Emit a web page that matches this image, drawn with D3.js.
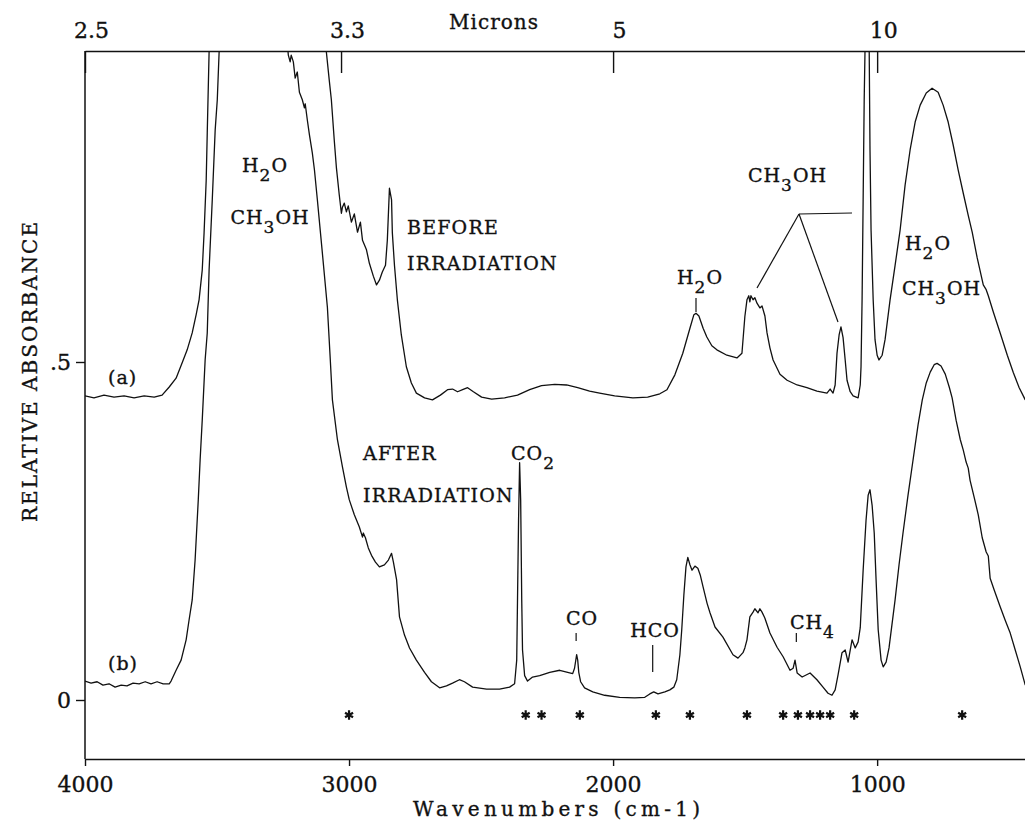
<!DOCTYPE html>
<html>
<head>
<meta charset="utf-8">
<script src="https://cdn.jsdelivr.net/npm/d3@7"></script>
<style>
  body { margin: 0; background: #fff; }
  text { font-family: "DejaVu Serif", serif; fill: #111; stroke: #111; stroke-width: 0.35px; }
</style>
</head>
<body>
<svg id="chart" width="1025" height="826"></svg>
<script>

// spectra: [wavenumber cm-1, relative absorbance]
// values above ~0.96 are off scale (clipped by the frame, as in the original)
var beforeIrradiation = [
  [4000,.450],[3966,.447],[3928,.451],[3890,.448],[3852,.450],[3814,.447],[3776,.450],[3738,.448],
  [3708,.451],[3681,.463],[3655,.476],[3632,.499],[3613,.518],[3594,.543],[3579,.570],[3568,.592],
  [3556,.636],[3549,.691],[3541,.769],[3537,.839],[3530,.959],[3511,1.05],[3450,1.15],[3300,1.2],
  [3150,1.1],[3100,1.0],[3086,.959],[3075,.917],[3067,.888],[3056,.828],[3048,.788],[3037,.747],
  [3029,.720],[3025,.729],[3018,.735],[3010,.722],[3003,.731],[2991,.707],[2980,.719],[2968,.692],
  [2957,.707],[2949,.680],[2934,.666],[2923,.646],[2908,.627],[2896,.614],[2885,.621],[2874,.633],
  [2862,.643],[2855,.680],[2847,.757],[2839,.740],[2836,.691],[2828,.643],[2817,.592],[2802,.540],
  [2783,.493],[2764,.469],[2745,.454],[2714,.447],[2684,.444],[2654,.451],[2627,.459],[2608,.460],
  [2589,.456],[2570,.459],[2551,.462],[2529,.456],[2498,.448],[2460,.445],[2411,.447],[2362,.451],
  [2316,.459],[2271,.465],[2221,.467],[2176,.466],[2134,.462],[2089,.457],[2051,.454],[1994,.450],
  [1925,.447],[1869,.448],[1823,.453],[1796,.459],[1766,.481],[1736,.513],[1709,.550],[1694,.570],
  [1686,.572],[1675,.568],[1659,.550],[1645,.537],[1626,.524],[1607,.518],[1569,.510],[1531,.506],
  [1512,.513],[1501,.567],[1493,.592],[1486,.598],[1482,.589],[1478,.598],[1470,.592],[1463,.595],
  [1455,.587],[1444,.580],[1436,.583],[1425,.568],[1417,.543],[1406,.521],[1394,.503],[1368,.482],
  [1341,.473],[1303,.466],[1266,.462],[1228,.457],[1190,.454],[1178,.460],[1167,.454],[1159,.466],
  [1152,.513],[1144,.540],[1137,.552],[1129,.536],[1121,.503],[1114,.473],[1102,.456],[1091,.450],
  [1072,.447],[1064,.466],[1061,.493],[1057,.592],[1053,.740],[1049,.888],[1046,.959],[1042,1.05],
  [1038,1.1],[1034,1.05],[1030,.959],[1027,.814],[1023,.695],[1015,.592],[1008,.533],[1000,.510],
  [993,.503],[981,.510],[970,.533],[951,.592],[932,.643],[913,.695],[894,.762],[875,.814],
  [856,.855],[837,.880],[814,.898],[792,.905],[769,.899],[750,.880],[731,.855],[712,.821],
  [693,.784],[674,.750],[655,.717],[640,.692],[621,.654],[598,.614],[587,.607],[579,.598],
  [560,.574],[534,.543],[507,.510],[484,.484],[462,.462],[439,.444]
];

var afterIrradiation = [
  [4000,.028],[3977,.025],[3954,.027],[3932,.022],[3909,.024],[3886,.019],[3863,.022],[3841,.021],
  [3818,.025],[3795,.024],[3772,.027],[3750,.024],[3727,.027],[3704,.024],[3681,.024],[3674,.028],
  [3655,.044],[3636,.059],[3617,.089],[3606,.118],[3594,.148],[3583,.207],[3571,.296],[3564,.355],
  [3556,.414],[3545,.503],[3537,.543],[3530,.636],[3518,.740],[3507,.843],[3499,.888],[3492,.959],
  [3450,1.1],[3350,1.2],[3260,1.05],[3240,1.0],[3230,.954],[3223,.944],[3219,.954],[3211,.944],
  [3204,.920],[3196,.929],[3188,.899],[3177,.888],[3169,.876],[3166,.882],[3158,.858],[3150,.836],
  [3139,.809],[3131,.784],[3120,.740],[3101,.661],[3082,.581],[3071,.503],[3063,.444],[3044,.385],
  [3025,.345],[3010,.315],[2999,.296],[2980,.274],[2961,.256],[2949,.241],[2946,.247],[2938,.240],
  [2927,.225],[2915,.214],[2900,.204],[2885,.197],[2866,.200],[2851,.207],[2839,.217],[2832,.204],
  [2820,.178],[2809,.123],[2790,.096],[2771,.077],[2745,.059],[2714,.041],[2688,.027],[2657,.018],
  [2631,.021],[2608,.025],[2582,.030],[2563,.027],[2532,.019],[2479,.016],[2430,.016],[2392,.019],
  [2373,.024],[2365,.059],[2362,.148],[2358,.266],[2354,.351],[2350,.296],[2346,.148],[2343,.074],
  [2335,.036],[2324,.028],[2305,.034],[2278,.036],[2240,.041],[2202,.044],[2172,.041],[2153,.039],
  [2146,.047],[2138,.067],[2134,.059],[2130,.041],[2123,.027],[2108,.018],[2077,.012],[2032,.007],
  [1975,.004],[1918,.003],[1880,.004],[1861,.009],[1846,.012],[1830,.009],[1804,.012],[1785,.015],
  [1770,.019],[1759,.030],[1747,.067],[1740,.104],[1732,.155],[1724,.197],[1717,.211],[1709,.200],
  [1701,.192],[1690,.198],[1679,.195],[1670,.185],[1659,.167],[1644,.143],[1633,.129],[1614,.108],
  [1584,.093],[1546,.067],[1527,.062],[1508,.070],[1501,.077],[1493,.089],[1482,.123],[1470,.130],
  [1463,.135],[1451,.129],[1444,.135],[1436,.130],[1425,.121],[1406,.099],[1379,.078],[1356,.064],
  [1330,.044],[1318,.047],[1311,.059],[1303,.040],[1284,.034],[1254,.040],[1228,.030],[1205,.019],
  [1186,.010],[1171,.007],[1159,.015],[1148,.037],[1133,.070],[1121,.074],[1110,.056],[1095,.089],
  [1083,.077],[1072,.086],[1064,.107],[1053,.192],[1042,.266],[1034,.303],[1027,.311],[1019,.288],
  [1011,.247],[1004,.178],[996,.104],[985,.059],[977,.049],[966,.056],[955,.077],[932,.148],
  [917,.200],[902,.247],[883,.303],[864,.355],[845,.407],[829,.444],[814,.469],[799,.485],
  [784,.496],[773,.498],[758,.494],[742,.482],[727,.463],[716,.447],[701,.414],[685,.385],
  [674,.370],[663,.352],[655,.343],[648,.325],[632,.299],[617,.274],[602,.240],[587,.219],
  [579,.213],[572,.180],[557,.163],[534,.138],[515,.118],[496,.099],[477,.074],[458,.049],[439,.022]
];

// bands marked with * under the spectra
var asteriskBands = [3000, 2331, 2271, 2126, 1838, 1709, 1493, 1356, 1300, 1254, 1216, 1178, 1087, 678];

var wavenumberTicks = [4000, 3000, 2000, 1000];
var micronTicks = [2.5, 3.3, 5, 10];
var absorbanceTicks = [0, 0.5];
var absorbanceTickLabels = ["0", ".5"];

var svg = d3.select("#chart");

var plotTop = 51, plotBottom = 759, plotLeft = 85, plotRight = 1025;

var x = d3.scaleLinear().domain([4000, 440]).range([plotLeft, plotRight]);
var y = d3.scaleLinear().domain([0, 0.5]).range([700, 362]);

svg.append("clipPath").attr("id", "plotclip")
  .append("rect")
  .attr("x", plotLeft).attr("y", plotTop)
  .attr("width", plotRight - plotLeft).attr("height", plotBottom - plotTop);

var line = d3.line()
  .x(function(d) { return x(d[0]); })
  .y(function(d) { return y(d[1]); });

//spectra
[beforeIrradiation, afterIrradiation].forEach(function(series) {
  svg.append("path")
    .datum(series)
    .attr("clip-path", "url(#plotclip)")
    .attr("fill", "none")
    .attr("stroke", "#111")
    .attr("stroke-width", 1.3)
    .attr("stroke-linejoin", "round")
    .attr("d", line);
});

//bottom axis (wavenumbers)
var bottomAxis = svg.append("g")
  .attr("transform", "translate(0," + plotBottom + ")")
  .call(d3.axisBottom(x).tickValues(wavenumberTicks).tickFormat(d3.format("d"))
    .tickSize(7).tickSizeOuter(0).tickPadding(10));
bottomAxis.attr("font-size", 22);

//top axis (microns)
var topAxis = svg.append("g")
  .attr("transform", "translate(0," + plotTop + ")")
  .call(d3.axisTop(x)
    .tickValues(micronTicks.map(function(m) { return 10000 / m; }))
    .tickFormat(function(d, i) { return micronTicks[i]; })
    .tickSize(-22).tickSizeOuter(0).tickPadding(13));
topAxis.attr("font-size", 22);
topAxis.selectAll(".tick text").attr("dx", 6);

//left axis
var leftAxis = svg.append("g")
  .attr("transform", "translate(" + plotLeft + ",0)")
  .call(d3.axisLeft(y).tickValues(absorbanceTicks)
    .tickFormat(function(d, i) { return absorbanceTickLabels[i]; })
    .tickSize(9).tickSizeOuter(0).tickPadding(5));
leftAxis.attr("font-size", 22);
leftAxis.select(".domain").remove();

svg.append("line")
  .attr("x1", plotLeft).attr("x2", plotLeft)
  .attr("y1", plotTop).attr("y2", plotBottom)
  .attr("stroke", "#111").attr("stroke-width", 1.5);

svg.selectAll(".domain, .tick line").attr("stroke", "#111").attr("stroke-width", 1.4);

//axis titles
svg.append("text")
  .attr("x", 494).attr("y", 29)
  .attr("text-anchor", "middle")
  .attr("font-size", 20)
  .attr("letter-spacing", 1)
  .text("Microns");

svg.append("text")
  .attr("x", 413).attr("y", 816)
  .attr("font-size", 20)
  .attr("textLength", 287)
  .attr("lengthAdjust", "spacing")
  .text("Wavenumbers (cm-1)");

svg.append("text")
  .attr("transform", "translate(37,372) rotate(-90)")
  .attr("text-anchor", "middle")
  .attr("font-size", 20)
  .attr("textLength", 300)
  .attr("lengthAdjust", "spacing")
  .text("RELATIVE ABSORBANCE");

// label helper: parts are [text, isSubscript]
function label(px, py, parts, anchor, spacing) {
  var t = svg.append("text")
    .attr("x", px).attr("y", py)
    .attr("font-size", 19)
    .attr("letter-spacing", spacing || 1)
    .attr("text-anchor", anchor || "start");
  var down = false;
  parts.forEach(function(p) {
    var sub = p[1];
    var ts = t.append("tspan").text(p[0]);
    if (sub && !down) { ts.attr("dy", 9).attr("font-size", 17); down = true; }
    else if (!sub && down) { ts.attr("dy", -9); down = false; }
    else if (sub) { ts.attr("font-size", 17); }
  });
  return t;
}

label(265, 172, [["H"], ["2", true], ["O"]], "middle");
label(270, 224, [["CH"], ["3", true], ["OH"]], "middle");
label(407, 234, [["BEFORE"]], "start", 1.2);
label(407, 270, [["IRRADIATION"]], "start", 1.2);
label(363, 460, [["AFTER"]], "start", 1.2);
label(363, 502, [["IRRADIATION"]], "start", 1.2);
label(511, 460, [["CO"], ["2", true]]);
label(582, 625, [["CO"]], "middle");
label(655, 637, [["HCO"]], "middle");
label(790, 629, [["CH"], ["4", true]]);
label(700, 284, [["H"], ["2", true], ["O"]], "middle");
label(748, 182, [["CH"], ["3", true], ["OH"]]);
label(905, 250, [["H"], ["2", true], ["O"]]);
label(902, 295, [["CH"], ["3", true], ["OH"]]);
label(108, 384, [["(a)"]], "start", 1);
label(108, 670, [["(b)"]], "start", 1);

//band markers
var marks = [
  [x(1686), 298, x(1686), 312],
  [x(2140), 633, x(2140), 641],
  [x(1850), 645, x(1850), 672],
  [x(1306), 633, x(1306), 642],
  // CH3OH bracket
  [799, 214, 852, 213],
  [799, 214, 757, 288],
  [799, 214, 838, 322]
];
svg.selectAll(".mark")
  .data(marks)
  .enter().append("line")
  .attr("class", "mark")
  .attr("x1", function(d) { return d[0]; })
  .attr("y1", function(d) { return d[1]; })
  .attr("x2", function(d) { return d[2]; })
  .attr("y2", function(d) { return d[3]; })
  .attr("stroke", "#111")
  .attr("stroke-width", 1.2);

//asterisks
svg.selectAll(".star")
  .data(asteriskBands)
  .enter().append("path")
  .attr("class", "star")
  .attr("transform", function(d) { return "translate(" + x(d) + ",715)"; })
  .attr("d", d3.symbol().type(d3.symbolAsterisk).size(60))
  .attr("fill", "none")
  .attr("stroke", "#111")
  .attr("stroke-width", 2.2);

</script>
</body>
</html>
